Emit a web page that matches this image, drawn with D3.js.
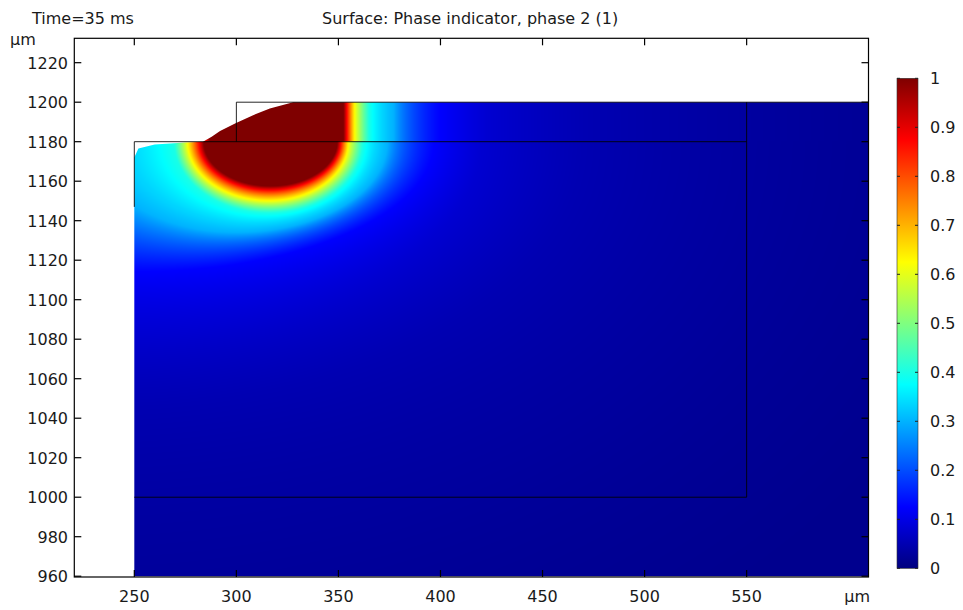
<!DOCTYPE html>
<html>
<head>
<meta charset="utf-8">
<script src="https://cdn.jsdelivr.net/npm/d3@7"></script>
<style>
  body { margin: 0; background: #fff; }
  svg text { font-family: "DejaVu Sans", sans-serif; font-size: 16px; fill: #1a1a1a; }
</style>
</head>
<body>
<div id="chart"></div>
<script>
// tick labels
var xTicks = [250, 300, 350, 400, 450, 500, 550];
var yTicks = [960, 980, 1000, 1020, 1040, 1060, 1080, 1100, 1120, 1140, 1160, 1180, 1200, 1220];
var cbTicks = [0, 0.1, 0.2, 0.3, 0.4, 0.5, 0.6, 0.7, 0.8, 0.9, 1];

// jet colour table
var jetStops = [0, 0.125, 0.375, 0.625, 0.875, 1];
var jetColors = ["#00007f", "#0000ff", "#00ffff", "#ffff00", "#ff0000", "#7f0000"];

// phase contours (um): value, centre x, reach left / right, depth below surface
var levelValues = [1, 0.62, 0.4, 0.3, 0.125, 0.08, 0.05, 0.03, 0.015];
var levelCx     = [316.5, 316, 316, 300, 250, 240, 230, 220, 200];
var levelLeft   = [32.5, 40, 46.5, 70, 150, 200, 250, 300, 400];
var levelRight  = [33, 39, 46, 74, 147, 180, 240, 340, 480];
var levelDepth  = [22.5, 30, 36, 46, 66, 98, 135, 210, 320];
var surfaceY = 1180;
var layerShift = 3;

// outline of the coloured domain (free surface of the melt bulges into the layer)
var domainX = [250, 609.7, 609.7, 327.8, 316.4, 308.2, 299.6, 292, 287.9, 283.6, 275, 260, 252, 250];
var domainY = [960, 960, 1200, 1200, 1196.8, 1193.4, 1189.3, 1185.4, 1182.5, 1180, 1179.6, 1178.6, 1176.5, 1172];

// geometry boundaries
var edges = [
  [250, 1147, 250, 1180],
  [250, 1180, 550, 1180],
  [250, 1000, 550, 1000],
  [550, 1000, 550, 1200],
  [300, 1180, 300, 1200],
  [300, 1200, 609.7, 1200]
];

var W = 963, H = 610;
var plot = { left: 74.3, right: 868.5, top: 38.3, bottom: 577 };

var x = d3.scaleLinear().domain([220.6, 609.7]).range([plot.left, plot.right]);
var y = d3.scaleLinear().domain([959.6, 1232.35]).range([plot.bottom, plot.top]);
var jet = d3.scaleLinear().domain(jetStops).range(jetColors).clamp(true);

function valueAt(px, py) {
  var dy, xe = px;
  if (py > surfaceY) { dy = 0; xe = px - layerShift; } else { dy = surfaceY - py; }
  var prev = null;
  for (var i = 0; i < levelValues.length; i++) {
    var dx = xe - levelCx[i];
    var a = dx < 0 ? levelLeft[i] : levelRight[i];
    var rho = Math.sqrt((dx / a) * (dx / a) + (dy / levelDepth[i]) * (dy / levelDepth[i]));
    if (rho <= 1) {
      if (i === 0) return levelValues[0];
      var t = (1 - rho) / (prev - rho);
      return levelValues[i] + t * (levelValues[i - 1] - levelValues[i]);
    }
    prev = rho;
  }
  return levelValues[levelValues.length - 1];
}

// colour lookup
var lut = d3.range(1024).map(function (k) { return d3.rgb(jet(k / 1023)); });

var svg = d3.select("#chart").append("svg")
  .attr("width", W).attr("height", H);

// field raster
var cw = Math.round(plot.right - plot.left), ch = Math.round(plot.bottom - plot.top);
var canvas = document.createElement("canvas");
canvas.width = cw; canvas.height = ch;
var ctx = canvas.getContext("2d");
var img = ctx.createImageData(cw, ch);
for (var j = 0; j < ch; j++) {
  var yv = y.invert(plot.top + j + 0.5);
  for (var i = 0; i < cw; i++) {
    var v = valueAt(x.invert(plot.left + i + 0.5), yv);
    var c = lut[Math.max(0, Math.min(1023, Math.round(v * 1023)))];
    var o = (j * cw + i) * 4;
    img.data[o] = c.r; img.data[o + 1] = c.g; img.data[o + 2] = c.b; img.data[o + 3] = 255;
  }
}
ctx.putImageData(img, 0, 0);

var defs = svg.append("defs");
defs.append("clipPath").attr("id", "domain")
  .append("path")
  .attr("d", d3.line()(domainX.map(function (d, k) { return [x(d), y(domainY[k])]; })) + "Z");

svg.append("image")
  .attr("x", plot.left).attr("y", plot.top)
  .attr("width", cw).attr("height", ch)
  .attr("preserveAspectRatio", "none")
  .attr("href", canvas.toDataURL())
  .attr("clip-path", "url(#domain)");

// geometry edges
svg.append("g").selectAll("line").data(edges).enter().append("line")
  .attr("x1", function (d) { return x(d[0]); })
  .attr("y1", function (d) { return y(d[1]); })
  .attr("x2", function (d) { return x(d[2]); })
  .attr("y2", function (d) { return y(d[3]); })
  .attr("stroke", "#000").attr("stroke-width", 1).attr("stroke-opacity", 0.85);

// axes box
svg.append("rect")
  .attr("x", plot.left).attr("y", plot.top)
  .attr("width", plot.right - plot.left).attr("height", plot.bottom - plot.top)
  .attr("fill", "none").attr("stroke", "#000").attr("stroke-width", 1.2);

var tk = 7;
var ticks = svg.append("g").attr("stroke", "#000").attr("stroke-width", 1.2);
xTicks.forEach(function (t) {
  ticks.append("line").attr("x1", x(t)).attr("x2", x(t)).attr("y1", plot.top).attr("y2", plot.top + tk);
  ticks.append("line").attr("x1", x(t)).attr("x2", x(t)).attr("y1", plot.bottom).attr("y2", plot.bottom - tk);
});
yTicks.forEach(function (t) {
  ticks.append("line").attr("y1", y(t)).attr("y2", y(t)).attr("x1", plot.left).attr("x2", plot.left + tk);
  ticks.append("line").attr("y1", y(t)).attr("y2", y(t)).attr("x1", plot.right).attr("x2", plot.right - tk);
});

svg.append("g").selectAll("text").data(xTicks).enter().append("text")
  .attr("x", function (d) { return x(d); }).attr("y", 602)
  .attr("text-anchor", "middle").text(function (d) { return d; });

svg.append("g").selectAll("text").data(yTicks).enter().append("text")
  .attr("x", 68).attr("y", function (d) { return y(d) + 6; })
  .attr("text-anchor", "end").text(function (d) { return d; });

svg.append("text").attr("x", 10).attr("y", 45).text("\u00b5m");
svg.append("text").attr("x", 870).attr("y", 602).attr("text-anchor", "end").text("\u00b5m");

svg.append("text").attr("x", 32).attr("y", 24).text("Time=35 ms");
svg.append("text").attr("x", 322).attr("y", 24).text("Surface: Phase indicator, phase 2 (1)");

// colour bar
var cb = { x: 897, w: 21, top: 78.3, bottom: 568.3 };
var cbScale = d3.scaleLinear().domain([0, 1]).range([cb.bottom, cb.top]);
var grad = defs.append("linearGradient").attr("id", "jet")
  .attr("x1", 0).attr("y1", 1).attr("x2", 0).attr("y2", 0);
grad.selectAll("stop").data(jetStops).enter().append("stop")
  .attr("offset", function (d) { return d; })
  .attr("stop-color", function (d, k) { return jetColors[k]; });

svg.append("rect")
  .attr("x", cb.x).attr("y", cb.top).attr("width", cb.w).attr("height", cb.bottom - cb.top)
  .attr("fill", "url(#jet)").attr("stroke", "#333").attr("stroke-width", 0.6);

var cbt = svg.append("g").attr("stroke", "#222").attr("stroke-width", 1);
cbTicks.forEach(function (t) {
  cbt.append("line").attr("x1", cb.x).attr("x2", cb.x + 3).attr("y1", cbScale(t)).attr("y2", cbScale(t));
  cbt.append("line").attr("x1", cb.x + cb.w - 3).attr("x2", cb.x + cb.w).attr("y1", cbScale(t)).attr("y2", cbScale(t));
});

svg.append("g").selectAll("text").data(cbTicks).enter().append("text")
  .attr("x", 930).attr("y", function (d) { return cbScale(d) + 6; })
  .text(function (d) { return d; });
</script>
</body>
</html>
